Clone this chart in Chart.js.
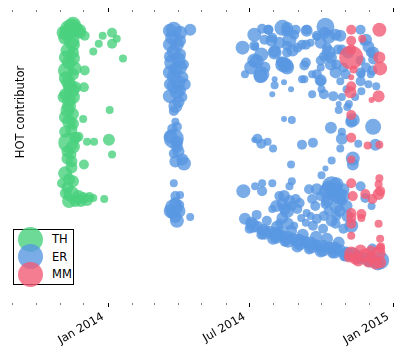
<!DOCTYPE html>
<html>
<head>
<meta charset="utf-8">
<script src="https://cdn.jsdelivr.net/npm/chart.js@4.4.1/dist/chart.umd.min.js"></script>
<style>
html,body{margin:0;padding:0;background:#fff;}
#wrap{position:relative;width:413px;height:356px;}
#legend{position:absolute;left:13px;top:229px;width:59px;height:54px;border:1px solid #000;background:#fff;font-family:'DejaVu Sans';font-size:11.5px;color:#000;}
.dot{position:absolute;left:3.5px;width:25px;height:25px;border-radius:50%;}
.lab{position:absolute;left:38px;transform:translateY(-50%);line-height:13px;white-space:nowrap;}
</style>
</head>
<body>
<div id="wrap">
<canvas id="c" width="413" height="356"></canvas>
<div id="legend"></div>
</div>
<script>
// ---- data: [days since 2014-01-01, contributor rank, bubble size] ----
const seriesNames = ['TH', 'ER', 'MM'];
const yLabel = 'HOT contributor';
const tickLabels = ['Jan 2014', 'Jul 2014', 'Jan 2015'];
const tickDates = ['2014-01-01', '2014-07-01', '2015-01-01'];
const monthStarts = ['2013-09-01','2013-10-01','2013-11-01','2013-12-01','2014-01-01','2014-02-01','2014-03-01','2014-04-01','2014-05-01','2014-06-01','2014-07-01','2014-08-01','2014-09-01','2014-10-01','2014-11-01','2014-12-01','2015-01-01'];

const thPoints = [
[-50,16,9],[-42,17,8],[-37,18,7],[-55,25,7],[-47,28,8],[-52,38,7],[-45,40,6],[-50,50,7],[-54,58,8],[-45,62,6],
[-51,70,7],[-47,78,8],[-55,82,6],[-42,75,6],[-50,88,7],[-52,98,7],[-45,102,6],[-50,110,7],[-55,120,6],[-47,118,6],
[-51,131,10],[-42,126,6],[-52,140,6],[-47,150,6],[-55,162,7],[-50,168,6],[-52,176,6],[-47,183,8],[-38,186,7],[-32,187,6],
[-24,186,5],[-42,190,6],[-30,23,5],[-19,39,4],[-12,31,4],[-7,23,4],[5,20,5],[5,31,5],[11,26,4],[19,46,4],
[2,98,4],[-32,107,4],[-27,130,4],[-18,130,4],[1,128,6],[5,143,4],[-31,153,5],[-5,188,4],[-19,187,4],[-30,58,5],
[-31,75,5],[-38,125,5],[-57,20,7],[-57,85,6],[-59,172,5],
[-45,12,8],[-52,20,8],[-45,32,7],[-45,46,7],[-54,45,7],[-43,56,7],[-54,66,7],[-49,74,7],[-45,85,7],[-50,94,7],
[-54,105,7],[-45,112,6],[-45,135,7],[-52,147,6],[-47,143,5],[-47,156,6],[-45,170,6],[-54,182,6],[-50,190,7],[-35,190,6],
[-27,189,6],[-46,15,9],[-36,20,6]
];

const erPoints = [
[84,17,8],[105,17,6],[82,25,7],[88,32,7],[84,39,7],[92,42,6],[82,50,8],[97,52,5],[86,57,7],[84,64,7],
[95,65,6],[98,72,6],[84,74,7],[88,80,7],[95,85,5],[84,99,5],[86,110,4],[82,117,5],[84,127,10],[88,130,6],
[88,135,6],[84,142,5],[95,148,6],[84,172,4],[86,185,5],[91,194,5],[92,184,4],[84,197,9],[86,206,6],[105,206,4],
[82,202,6],
[79,18,7],[92,20,7],[79,32,7],[92,28,6],[90,47,7],[79,44,6],[92,55,7],[79,60,7],[90,70,7],[79,72,6],
[92,78,6],[79,84,7],[90,90,6],[86,94,7],[88,115,5],[80,125,7],[90,140,6],[86,150,6],[97,152,7],[80,200,7],
[90,200,7],[86,192,6],[88,210,7],
[172,35,7],[187,22,7],[188,34,4],[197,16,5],[205,17,5],[196,42,7],[190,49,7],[183,55,7],[195,64,7],[175,62,4],
[210,25,5],[213,39,6],[223,15,8],[229,15,6],[238,22,5],[232,27,7],[219,30,6],[225,52,7],[229,55,7],[221,49,5],
[229,40,5],[242,35,5],[254,17,5],[253,32,5],[259,30,4],[253,50,5],[261,62,4],[251,67,4],[225,70,3],[213,67,3],
[234,77,3],[210,82,3],[248,67,4],[267,24,4],[278,14,9],[282,24,7],[291,22,6],[280,35,5],[276,44,5],[272,55,4],
[267,62,5],[272,69,5],[273,77,4],[276,82,5],[261,82,4],[288,84,5],[285,45,6],[292,52,5],[301,55,5],[299,37,5],
[304,62,5],[297,69,4],[305,77,4],[299,85,4],[308,92,4],[295,92,3],[323,17,5],[327,29,4],[333,34,6],[336,40,5],
[339,47,5],[330,55,5],[324,62,4],[323,69,5],[333,72,4],[343,74,4],[336,62,4],[324,79,4],[316,85,4],[236,38,6],
[200,55,6],[338,58,5],[251,53,5],
[205,17,5],[229,18,6],[240,17,5],[254,18,6],[267,23,5],[277,20,6],[297,23,6],[330,27,6],[187,33,5],[200,27,5],
[209,28,6],[213,40,7],[229,33,5],[248,32,5],[272,30,6],[282,40,7],[294,37,5],[307,40,6],[339,40,6],[187,48,7],
[196,62,8],[224,52,8],[228,53,7],[272,48,5],[285,52,6],[291,60,6],[272,68,6],[323,48,5],[323,60,5],[213,73,4],
[225,107,3],[235,108,4],[285,116,6],[299,120,4],[295,98,4],[306,95,4],[313,108,7],[339,115,8],[299,127,6],[320,132,4],
[297,137,4],[342,133,6],[191,127,5],[196,132,5],[204,130,4],[187,128,3],[211,137,4],[248,133,5],[262,131,5],[313,147,7],
[313,153,6],[286,149,4],[234,153,4],[278,157,3],[273,164,4],[311,110,6],
[173,180,7],[188,175,4],[197,172,4],[197,180,5],[210,172,4],[235,170,4],[232,175,4],[219,185,5],[225,185,6],[232,190,6],
[240,188,5],[223,193,6],[210,198,4],[229,200,7],[242,198,5],[223,207,6],[219,212,4],[238,215,4],[257,178,5],[267,178,6],
[272,185,5],[282,175,6],[292,173,7],[301,178,6],[286,183,7],[261,188,5],[278,193,5],[299,190,5],[282,200,5],[254,202,4],
[247,207,4],[267,208,5],[292,205,5],[291,213,5],[253,212,4],[259,205,4],[301,218,5],[311,215,7],[323,175,5],[329,187,5],
[337,195,4],[286,175,10],[295,185,8],[280,180,8],[348,250,9],[338,238,5],
[290,180,8],[300,185,7],[305,195,6],[292,195,7],[280,190,6],[296,200,6],[306,205,6],[286,210,6],[276,205,5],[265,195,5],
[262,215,5],[275,218,5],[245,192,5],[235,195,5],[215,195,6],[226,198,6],[230,213,6],[220,220,5],
[175,208,6],[183,212,6],[191,216,6],[199,219,6],[206,221,6],[214,223,7],[221,225,6],[229,227,7],[236,228,6],[244,230,7],
[252,231,6],[259,233,7],[267,235,6],[274,236,7],[282,237,6],[290,238,7],[297,240,6],[305,242,6],[313,244,7],[320,246,6],
[328,248,6],[336,249,7],[343,251,6],[181,218,5],[196,224,5],[211,228,6],[226,231,5],[242,236,6],[257,239,5],[272,241,6],
[287,243,5],[302,246,5],[190,204,5],[203,210,5],[216,216,6],[234,220,6],[249,224,6],[266,226,6],[280,228,6],[295,232,6],
[185,215,7],[200,222,7],[215,226,7],[230,230,7],[245,233,7],[260,236,7],[275,239,7],[290,241,7],[305,244,7],[320,247,7],
[335,250,7],[345,253,7]
];

const mmPoints = [
[311,17,5],[311,28,5],[325,26,4],[347,17,7],[311,45,12],[311,37,5],[314,57,4],[311,65,3],[311,74,5],[310,80,6],
[347,45,6],[348,56,7],[346,84,6],[337,88,3],[311,103,5],[311,126,5],[332,134,4],[347,133,4],[311,148,4],[347,167,4],
[311,172,5],[346,173,4],[348,180,5],[313,185,5],[329,183,5],[338,188,5],[346,183,6],[311,202,5],[311,207,5],[324,203,5],
[324,207,4],[311,213,5],[346,213,4],[311,225,4],[348,228,4],[349,236,4],[311,243,7],[323,240,6],[329,245,7],[337,247,6],
[346,243,7],[348,252,6],[320,250,6],[342,253,6],[308,247,5],[336,240,5],[348,238,5],[316,248,6],[333,251,6]
];

const colors = ['rgba(74,209,126,0.8)', 'rgba(89,151,226,0.8)', 'rgba(242,92,118,0.8)'];

// ---- helpers ----
const epoch = Date.parse('2014-01-01');
const dayOf = s => (Date.parse(s) - epoch) / 86400000;
const toBubbles = pts => pts.map(p => ({x: p[0], y: p[1], r: p[2]}));
function monthTicks(scale) {
  scale.ticks = monthStarts.map(s => {
    const i = tickDates.indexOf(s);
    return {value: dayOf(s), major: i >= 0, txt: i >= 0 ? tickLabels[i] : ''};
  });
}
const isMajor = ctx => !!(ctx.tick && ctx.tick.major);

const xMin = -123, xMax = 367;

const yTitle = {
  id: 'yTitle',
  afterDraw(chart) {
    const c = chart.ctx;
    c.save();
    c.translate(21, 112);
    c.rotate(-Math.PI / 2);
    c.font = "11.5px 'DejaVu Sans'";
    c.fillStyle = '#000';
    c.textAlign = 'center';
    c.textBaseline = 'middle';
    c.fillText(yLabel, 0, 0);
    c.restore();
  }
};

const chart = new Chart(document.getElementById('c'), {
  type: 'bubble',
  data: {
    datasets: [
      {label: seriesNames[0], data: toBubbles(thPoints), backgroundColor: colors[0], borderWidth: 0, hoverBorderWidth: 0, order: 2},
      {label: seriesNames[1], data: toBubbles(erPoints), backgroundColor: colors[1], borderWidth: 0, hoverBorderWidth: 0, order: 1},
      {label: seriesNames[2], data: toBubbles(mmPoints), backgroundColor: colors[2], borderWidth: 0, hoverBorderWidth: 0, order: 0}
    ]
  },
  options: {
    responsive: false,
    animation: false,
    events: [],
    layout: {padding: {left: 8, right: 18, top: 0, bottom: 0}},
    plugins: {legend: {display: false}, tooltip: {enabled: false}, title: {display: false}},
    scales: {
      x: {
        type: 'linear', position: 'bottom', min: xMin, max: xMax,
        afterBuildTicks: monthTicks,
        afterFit: s => { s.height = 53; },
        border: {display: false},
        grid: {
          display: true, drawOnChartArea: false, drawTicks: true, tickLength: 4,
          tickColor: ctx => isMajor(ctx) ? '#000' : '#555',
          tickWidth: ctx => isMajor(ctx) ? 1 : 0.8,
          tickBorderDash: ctx => isMajor(ctx) ? [] : [2, 10],
          tickBorderDashOffset: 0
        },
        ticks: {
          autoSkip: false, minRotation: 30, maxRotation: 30, padding: 3, labelOffset: -5, color: '#000',
          font: {family: 'DejaVu Sans', size: 11.5},
          callback: (v, i, t) => t[i].txt
        }
      },
      xTop: {
        type: 'linear', position: 'top', min: xMin, max: xMax,
        afterBuildTicks: monthTicks,
        afterFit: s => { s.height = 9; },
        border: {display: false},
        grid: {
          display: true, drawOnChartArea: false, drawTicks: true, tickLength: 4,
          tickColor: ctx => isMajor(ctx) ? '#000' : '#555',
          tickWidth: ctx => isMajor(ctx) ? 1 : 0.8,
          tickBorderDash: ctx => isMajor(ctx) ? [] : [2, 2],
          tickBorderDashOffset: ctx => isMajor(ctx) ? 0 : 2
        },
        ticks: {display: false}
      },
      y: {display: false, min: -1, max: 293, reverse: true}
    }
  },
  plugins: [yTitle]
});

// ---- legend built from the chart's datasets ----
const legend = document.getElementById('legend');
const centers = [9, 26.5, 44];
chart.data.datasets.forEach((ds, i) => {
  const dot = document.createElement('div');
  dot.className = 'dot';
  dot.style.top = (centers[i] - 12.5) + 'px';
  dot.style.background = ds.backgroundColor;
  legend.appendChild(dot);
  const lab = document.createElement('div');
  lab.className = 'lab';
  lab.style.top = centers[i] + 'px';
  lab.textContent = ds.label;
  legend.appendChild(lab);
});
</script>
</body>
</html>
